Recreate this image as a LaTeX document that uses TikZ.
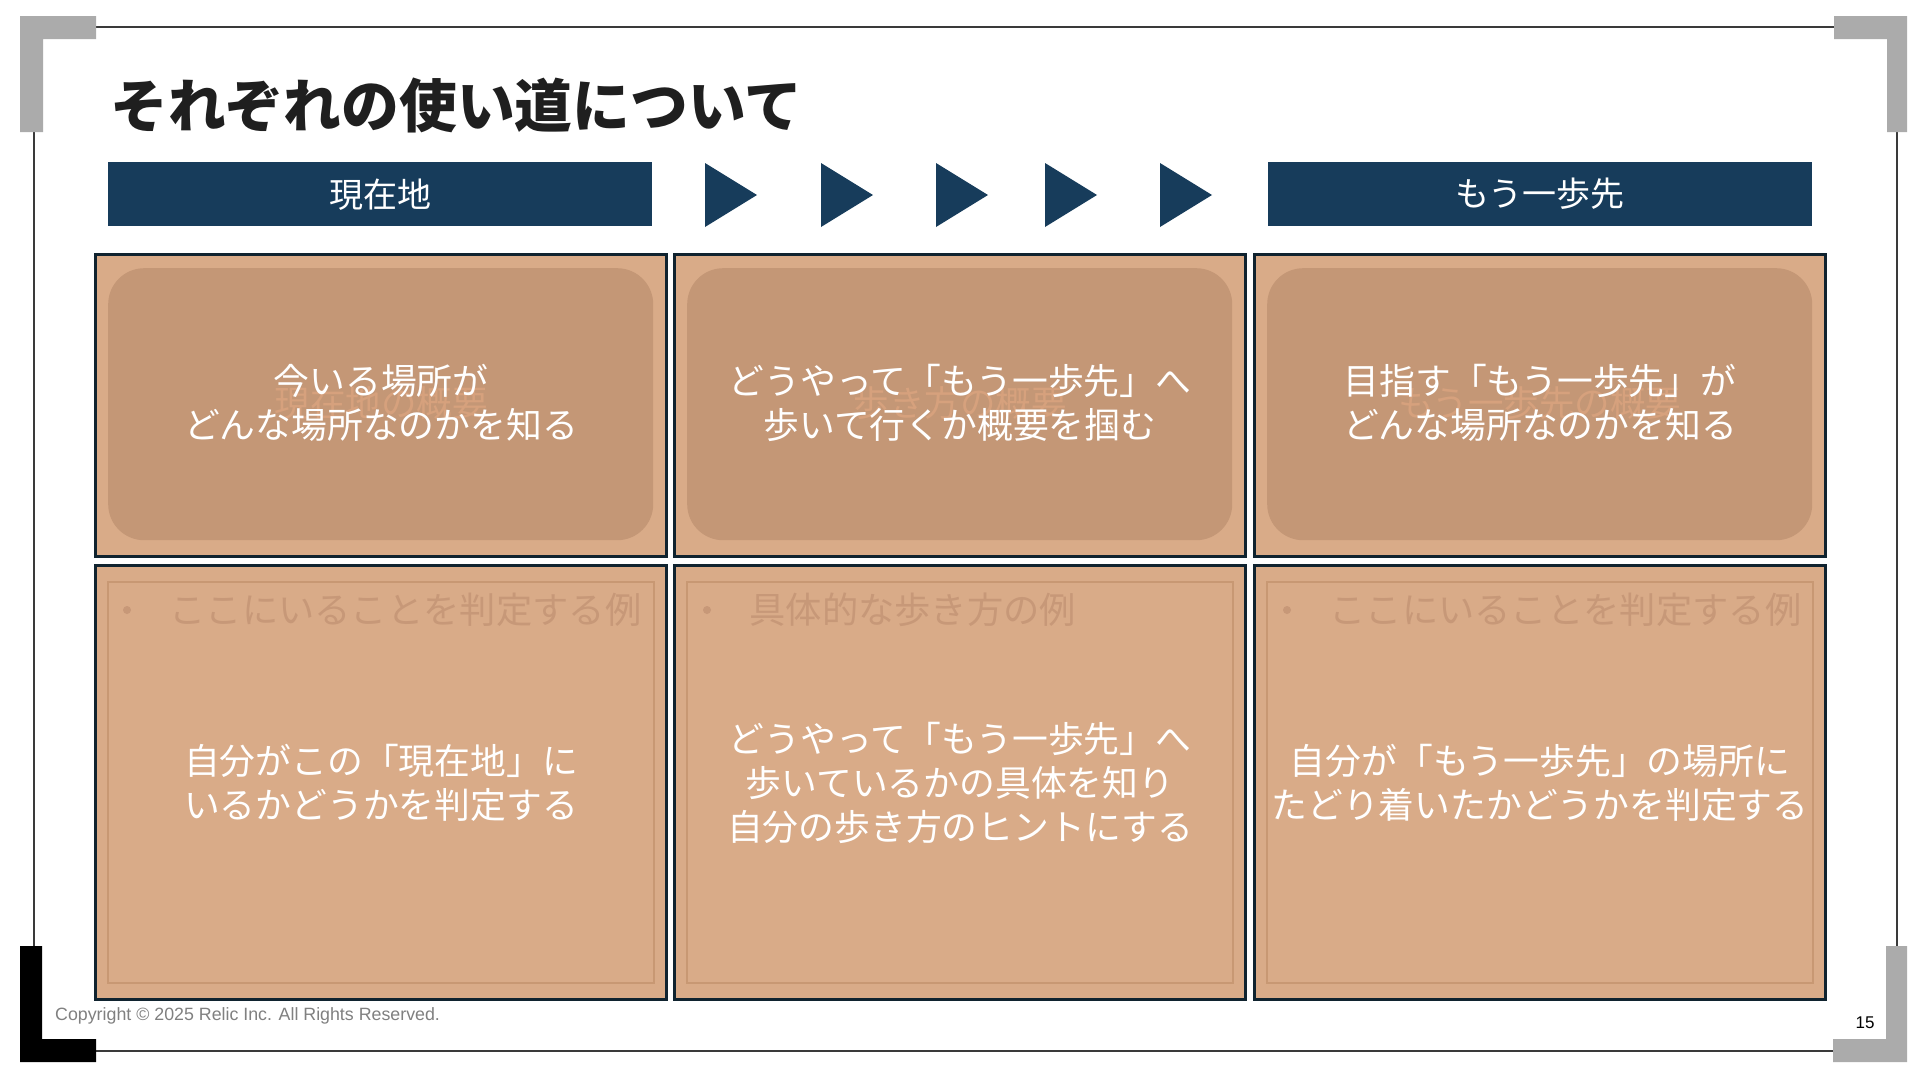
\documentclass[tikz,border=0pt]{standalone}
\usepackage{fontspec}
\setmainfont{Liberation Sans}
\newfontfamily\jpfont{Noto Sans CJK JP}
\usepackage{xcolor}
\usetikzlibrary{positioning,calc}

\definecolor{navy}{HTML}{173C5B}
\definecolor{tanbg}{HTML}{D9AB88}
\definecolor{tandark}{HTML}{C49776}
\definecolor{tanline}{HTML}{C89873}
\definecolor{ghostlight}{HTML}{D6A17D}
\definecolor{ghostdark}{HTML}{C79878}
\definecolor{cellline}{HTML}{10232F}
\definecolor{cornergray}{HTML}{ABABAB}
\definecolor{rulegray}{HTML}{3A3A3A}

\begin{document}
\begin{tikzpicture}[
  x=1pt, y=-1pt,
  every node/.style={inner sep=0pt},
  bar/.style={fill=navy, text=white, anchor=north west, minimum width=544pt, minimum height=64pt,
    font=\jpfont\fontsize{34}{40}\selectfont},
  cell/.style={draw=cellline, line width=3pt, fill=tanbg, anchor=north west, minimum width=571pt},
  pill/.style={fill=tandark, rounded corners=36pt, anchor=north west, minimum width=545pt, minimum height=272pt},
  frame/.style={draw=tanline, line width=2.2pt, anchor=north west, minimum width=546pt, minimum height=401pt},
  body/.style={text=white, align=center, font=\jpfont\fontsize{35.8}{44}\selectfont},
  ghost/.style={text=ghostlight, font=\jpfont\fontsize{35.5}{44}\selectfont},
  hint/.style={text=ghostdark, font=\jpfont\fontsize{36.3}{44}\selectfont},
  dot/.style={circle, fill=ghostdark, minimum size=8pt},
  rule/.style={draw=rulegray, line width=1.2pt},
]
  \useasboundingbox (0,0) rectangle (1920,1080);
  \fill[white] (0,0) rectangle (1920,1080);

  % ---------- page frame ----------
  \draw[rule] (96,27) -- (1834,27);
  \draw[rule] (96,1051) -- (1833,1051);
  \draw[rule] (34,132) -- (34,946);
  \draw[rule] (1897,132) -- (1897,946);
  \fill[cornergray] (20,16) -- (96,16) -- (96,39) -- (43,39) -- (43,132) -- (20,132) -- cycle;
  \fill[cornergray] (1834,16) -- (1907,16) -- (1907,132) -- (1887,132) -- (1887,39) -- (1834,39) -- cycle;
  \fill[black] (20,946) -- (42,946) -- (42,1039) -- (96,1039) -- (96,1062) -- (20,1062) -- cycle;
  \fill[cornergray] (1886,946) -- (1907,946) -- (1907,1062) -- (1833,1062) -- (1833,1039) -- (1886,1039) -- cycle;

  \node[anchor=west, text=black!88, font=\jpfont\bfseries\fontsize{57.8}{62}\selectfont] (title) at (110,105)
    {それぞれの使い道について};

  % ---------- header: here -> one step ahead ----------
  \node[bar] (hereBar) at (108,162) {現在地};
  \node[bar] (nextBar) at (1268,162) {もう一歩先};
  \foreach \tx in {705,821,936,1045,1160}
    \fill[navy] (\tx,163) -- (\tx+52,195) -- (\tx,227) -- cycle;

  % ---------- top row: overview ----------
  \node[cell, minimum height=302pt] (sumHere) at (94,253) {};
  \node[cell, minimum height=302pt] (sumWalk) at (673,253) {};
  \node[cell, minimum height=302pt] (sumNext) at (1253,253) {};
  \node[pill] (pillHere) at (108,268) {};
  \node[pill] (pillWalk) at (687,268) {};
  \node[pill] (pillNext) at (1267,268) {};
  \node[ghost] (ghHere) at ($(sumHere.center)+(0,-2)$) {現在地の概要};
  \node[ghost] (ghWalk) at ($(sumWalk.center)+(0,-2)$) {歩き方の概要};
  \node[ghost] (ghNext) at ($(sumNext.center)+(0,-2)$) {もう一歩先の概要};
  \node[body] (txHere) at ($(sumHere.center)+(0,-3)$) {今いる場所が\\どんな場所なのかを知る};
  \node[body] (txWalk) at ($(sumWalk.center)+(0,-3)$) {どうやって「もう一歩先」へ\\歩いて行くか概要を掴む};
  \node[body] (txNext) at ($(sumNext.center)+(0,-3)$) {目指す「もう一歩先」が\\どんな場所なのかを知る};

  % ---------- bottom row: examples ----------
  \node[cell, minimum height=434pt] (exHere) at (94,564) {};
  \node[cell, minimum height=434pt] (exWalk) at (673,564) {};
  \node[cell, minimum height=434pt] (exNext) at (1253,564) {};
  \node[frame] (frHere) at (107,581) {};
  \node[frame] (frWalk) at (686,581) {};
  \node[frame] (frNext) at (1266,581) {};
  \node[dot] (dotHere) at (127,610) {};
  \node[dot] (dotWalk) at (707,610) {};
  \node[dot] (dotNext) at (1287,610) {};
  \node[hint, right=38pt of dotHere] (hdHere) {ここにいることを判定する例};
  \node[hint, right=38pt of dotWalk] (hdWalk) {具体的な歩き方の例};
  \node[hint, right=38pt of dotNext] (hdNext) {ここにいることを判定する例};
  \node[body] (bdHere) at (exHere.center) {自分がこの「現在地」に\\いるかどうかを判定する};
  \node[body] (bdWalk) at (exWalk.center) {どうやって「もう一歩先」へ\\歩いているかの具体を知り\\自分の歩き方のヒントにする};
  \node[body] (bdNext) at (exNext.center) {自分が「もう一歩先」の場所に\\たどり着いたかどうかを判定する};

  % ---------- footer ----------
  \node[anchor=west, text=black!50, font=\fontsize{17.8}{20}\selectfont] (copy) at (55,1016)
    {Copyright © 2025 Relic Inc. All Rights Reserved.};
  \node[text=black, font=\fontsize{17}{20}\selectfont] (pageNo) at (1865,1023) {15};
\end{tikzpicture}
\end{document}
